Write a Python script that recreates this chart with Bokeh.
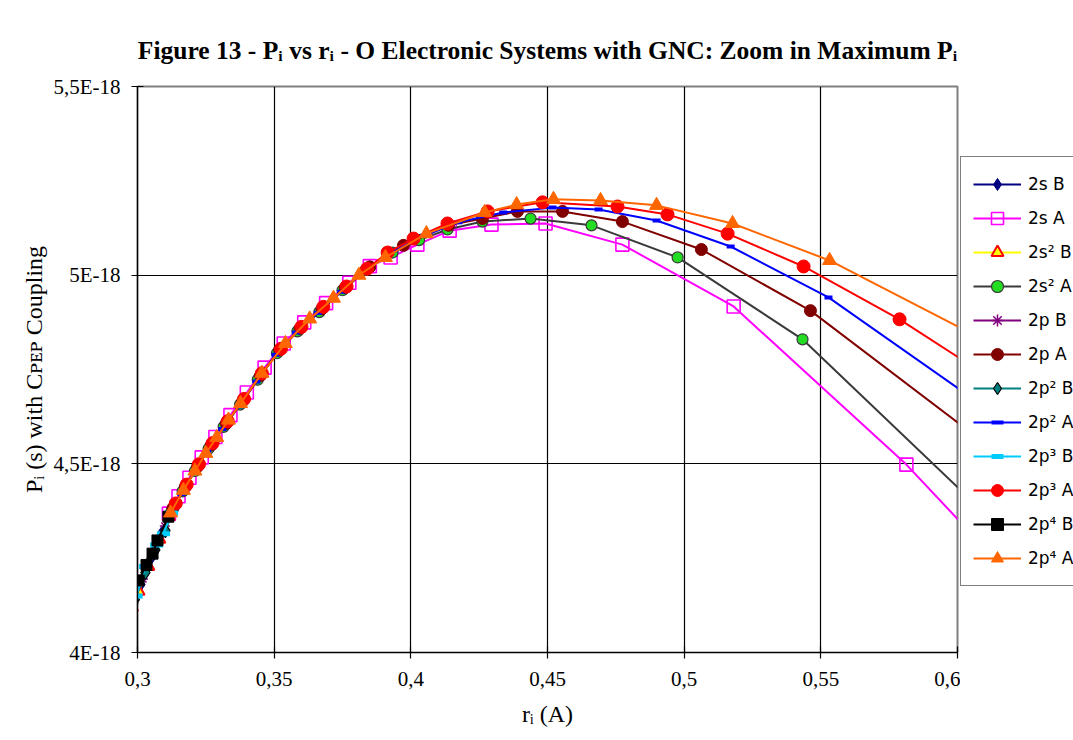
from bokeh.plotting import figure
from bokeh.models import Range1d, FixedTicker, Legend, LegendItem, Title
from bokeh.layouts import row
from bokeh.embed import file_html
from bokeh.resources import INLINE

# ---------------- data: r_i (A) and P_i in units of 1E-18 s ----------------
x_ticks = [0.3, 0.35, 0.4, 0.45, 0.5, 0.55, 0.6]
x_tick_labels = ["0,3", "0,35", "0,4", "0,45", "0,5", "0,55", "0,6"]
y_ticks = [4.0, 4.5, 5.0, 5.5]
y_tick_labels = ["4E-18", "4,5E-18", "5E-18", "5,5E-18"]

series_names = ["2s B", "2s A", "2s² B", "2s² A", "2p B", "2p A",
                "2p² B", "2p² A", "2p³ B", "2p³ A", "2p⁴ B", "2p⁴ A"]

s2B_x = [0.2975, 0.3012, 0.3050, 0.3090, 0.3120]
s2B_y = [4.112, 4.180, 4.250, 4.318, 4.368]

s2A_x = [0.3115, 0.3150, 0.3190, 0.3235, 0.3285, 0.3340, 0.3400, 0.3465, 0.3535, 0.3610, 0.3690,
         0.3775, 0.3850, 0.3926, 0.4024, 0.4142, 0.4295, 0.4493, 0.4774, 0.5181, 0.5813, 0.6200]
s2A_y = [4.368, 4.414, 4.463, 4.517, 4.571, 4.629, 4.689, 4.755, 4.819, 4.875, 4.926,
         4.980, 5.024, 5.047, 5.081, 5.118, 5.134, 5.137, 5.081, 4.917, 4.498, 4.200]

s22B_x = [0.2980, 0.3004, 0.3040, 0.3080, 0.3115]
s22B_y = [4.120, 4.162, 4.228, 4.300, 4.360]

s22A_x = [0.3125, 0.3165, 0.3210, 0.3260, 0.3315, 0.3375, 0.3440, 0.3510, 0.3585, 0.3665, 0.3750,
          0.3835, 0.3933, 0.4030, 0.4134, 0.4262, 0.4438, 0.4661, 0.4976, 0.5433, 0.6200]
s22A_y = [4.375, 4.427, 4.481, 4.540, 4.598, 4.657, 4.723, 4.793, 4.851, 4.902, 4.960,
          5.014, 5.060, 5.093, 5.121, 5.142, 5.150, 5.132, 5.047, 4.830, 4.300]

p1B_x = [0.2985, 0.3020, 0.3060, 0.3100]
p1B_y = [4.130, 4.195, 4.266, 4.335]

p1A_x = [0.3130, 0.3175, 0.3220, 0.3270, 0.3325, 0.3385, 0.3450, 0.3520, 0.3595, 0.3675, 0.3760,
         0.3850, 0.3973, 0.4138, 0.4262, 0.4390, 0.4555, 0.4774, 0.5063, 0.5462, 0.6200]
p1A_y = [4.383, 4.439, 4.493, 4.550, 4.607, 4.666, 4.734, 4.802, 4.859, 4.911, 4.967,
         5.022, 5.079, 5.132, 5.150, 5.169, 5.169, 5.142, 5.068, 4.906, 4.500]

p2B_x = [0.2990, 0.3029, 0.3065, 0.3102, 0.3130]
p2B_y = [4.140, 4.212, 4.272, 4.323, 4.375]

p2A_x = [0.3120, 0.3160, 0.3205, 0.3255, 0.3310, 0.3370, 0.3435, 0.3505, 0.3580, 0.3660, 0.3745,
         0.3835, 0.3940, 0.4050, 0.4174, 0.4338, 0.4518, 0.4687, 0.4899, 0.5170, 0.5528, 0.6200]
p2A_y = [4.368, 4.420, 4.476, 4.534, 4.592, 4.652, 4.718, 4.789, 4.848, 4.900, 4.956,
         5.014, 5.066, 5.105, 5.140, 5.166, 5.179, 5.174, 5.145, 5.076, 4.941, 4.600]

p3B_x = [0.2995, 0.3029, 0.3070, 0.3095, 0.3125]
p3B_y = [4.150, 4.228, 4.285, 4.315, 4.370]

p3A_x = [0.3140, 0.3180, 0.3225, 0.3275, 0.3330, 0.3390, 0.3455, 0.3525, 0.3600, 0.3680, 0.3765,
         0.3840, 0.3915, 0.4010, 0.4134, 0.4281, 0.4482, 0.4756, 0.4939, 0.5159, 0.5437, 0.5788, 0.6200]
p3A_y = [4.395, 4.445, 4.499, 4.555, 4.613, 4.672, 4.740, 4.805, 4.863, 4.916, 4.970,
         5.017, 5.060, 5.097, 5.137, 5.169, 5.193, 5.182, 5.161, 5.110, 5.023, 4.883, 4.690]

p4B_x = [0.3004, 0.3033, 0.3055, 0.3073, 0.3113]
p4B_y = [4.191, 4.232, 4.262, 4.297, 4.360]

p4A_x = [0.3121, 0.3168, 0.3210, 0.3250, 0.3290, 0.3333, 0.3377, 0.3455, 0.3541, 0.3630, 0.3717,
         0.3810, 0.3907, 0.4057, 0.4270, 0.4387, 0.4522, 0.4694, 0.4899, 0.5177, 0.5532, 0.6200]
p4A_y = [4.370, 4.430, 4.481, 4.528, 4.570, 4.616, 4.660, 4.740, 4.819, 4.884, 4.939,
         5.000, 5.047, 5.110, 5.166, 5.187, 5.201, 5.198, 5.185, 5.137, 5.039, 4.790]

series_data = [(s2B_x, s2B_y), (s2A_x, s2A_y), (s22B_x, s22B_y), (s22A_x, s22A_y),
               (p1B_x, p1B_y), (p1A_x, p1A_y), (p2B_x, p2B_y), (p2A_x, p2A_y),
               (p3B_x, p3B_y), (p3A_x, p3A_y), (p4B_x, p4B_y), (p4A_x, p4A_y)]

title_text = "Figure 13 - Pᵢ vs rᵢ - O Electronic Systems with GNC: Zoom in Maximum Pᵢ"
x_label = "rᵢ (A)"
y_label = "Pᵢ (s) with Cᴘᴇᴘ Coupling"

# ---------------- styles ----------------
styles = [
    dict(line="#000080", marker="diamond", size=13, fill="#000080", edge="#000080", lw=1),
    dict(line="#FF00FF", marker="square", size=13, fill=None, edge="#FF00FF", lw=1.6),
    dict(line="#FFFF00", marker="triangle", size=12, fill="#FFFF00", edge="#FF0000", lw=2),
    dict(line="#3A3A3A", marker="circle", size=11, fill="#22DD22", edge="#3A3A3A", lw=1.2),
    dict(line="#800080", marker="asterisk", size=10, fill=None, edge="#800080", lw=1.5),
    dict(line="#800000", marker="circle", size=12, fill="#800000", edge="#800000", lw=1),
    dict(line="#008080", marker="diamond", size=14, fill="#008080", edge="#000000", lw=1.2),
    dict(line="#0000FF", marker="dash", size=8, fill=None, edge="#0000FF", lw=4),
    dict(line="#00CCFF", marker="dash", size=13, fill=None, edge="#00CCFF", lw=5),
    dict(line="#FF0000", marker="circle", size=13, fill="#FF0000", edge="#FF0000", lw=1),
    dict(line="#000000", marker="square", size=11, fill="#000000", edge="#000000", lw=1),
    dict(line="#FF6600", marker="triangle", size=14, fill="#FF6600", edge="#FF6600", lw=1),
]


def marker_kw(st):
    kw = dict(marker=st["marker"], size=st["size"], line_color=st["edge"], line_width=st["lw"])
    if st["fill"] is None:
        kw["fill_alpha"] = 0
    else:
        kw["fill_color"] = st["fill"]
    return kw


# ---------------- main chart ----------------
p = figure(frame_width=820, frame_height=566, x_range=Range1d(0.3, 0.6), y_range=Range1d(4.0, 5.5),
           output_backend="svg", toolbar_location=None,
           min_border_left=137, min_border_right=3, min_border_top=86, min_border_bottom=88)
p.title = Title(text=title_text, align="center", text_font="Liberation Serif",
                text_font_size="25.5px", text_font_style="bold", text_color="black")
p.add_layout(Title(text=" ", text_font_size="4px"), "above")   # spacer between title and frame
p.background_fill_color = "white"
p.border_fill_color = "white"
p.outline_line_color = "#808080"
p.outline_line_width = 2

for ax, ticks, labels in ((p.xaxis[0], x_ticks, x_tick_labels), (p.yaxis[0], y_ticks, y_tick_labels)):
    ax.ticker = FixedTicker(ticks=ticks)
    ax.major_label_overrides = {t: l for t, l in zip(ticks, labels)}
    ax.axis_line_color = "black"
    ax.axis_line_width = 1.2
    ax.major_tick_line_color = "black"
    ax.major_tick_line_width = 1.2
    ax.major_tick_in = 6
    ax.major_tick_out = 6
    ax.minor_tick_line_color = None
    ax.major_label_text_font = "Liberation Serif"
    ax.major_label_text_font_size = "21px"
    ax.major_label_text_color = "black"
    ax.axis_label_text_font = "Liberation Serif"
    ax.axis_label_text_font_size = "24px"
    ax.axis_label_text_font_style = "normal"
    ax.axis_label_text_color = "black"
p.xaxis.major_label_standoff = 13
p.yaxis.major_label_standoff = 11
p.xaxis.axis_label = x_label
p.yaxis.axis_label = y_label
p.xaxis.axis_label_standoff = 12
p.yaxis.axis_label_standoff = 3

p.xgrid.ticker = FixedTicker(ticks=x_ticks)
p.ygrid.ticker = FixedTicker(ticks=y_ticks)
for g in (p.xgrid[0], p.ygrid[0]):
    g.grid_line_color = "black"
    g.grid_line_width = 1.2

for (xs, ys), st in zip(series_data, styles):
    p.line(xs, ys, line_color=st["line"], line_width=2)
    p.scatter(xs, ys, **marker_kw(st))

# ---------------- legend panel (same series, plotted off-range so only the key shows) ----------------
lg = figure(width=113, height=740, x_range=Range1d(10, 11), y_range=Range1d(10, 11),
            x_axis_type=None, y_axis_type=None, output_backend="svg", toolbar_location=None,
            min_border=0)
lg.outline_line_color = None
lg.background_fill_color = "white"
lg.border_fill_color = "white"
lg.grid.visible = False
items = []
for name, (xs, ys), st in zip(series_names, series_data, styles):
    lr = lg.line(xs, ys, line_color=st["line"], line_width=2)
    sr = lg.scatter(xs, ys, **marker_kw(st))
    items.append(LegendItem(label=name, renderers=[lr, sr]))
legend = Legend(items=items, location=(0, 66), orientation="vertical",
                border_line_color="black", border_line_width=1.5, background_fill_color="white",
                background_fill_alpha=1, label_text_font="DejaVu Sans", label_text_font_size="17px",
                label_text_color="black",
                glyph_width=48, glyph_height=30, label_height=30, spacing=4, padding=12,
                margin=0, label_standoff=7)
lg.add_layout(legend, "center")

layout = row(p, lg)
open("out.html", "w").write(file_html(layout, INLINE))
